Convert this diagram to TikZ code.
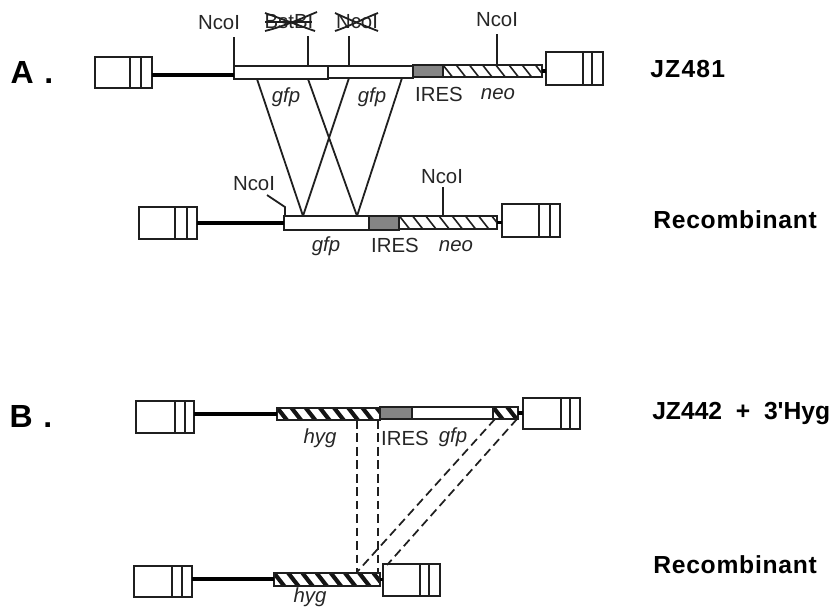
\documentclass[tikz,border=0pt]{standalone}
\usepackage{fontspec}
\setmainfont{Liberation Sans}
\newcommand{\ltrbox}[8]{% name x y w h v1 v2 (unused)
  \node[seg,minimum width=#4*.75pt,minimum height=#5*.75pt] (#1) at (#2,#3) {};
  \coordinate (#1v1) at (#6,#3);
  \coordinate (#1v2) at (#7,#3);
  \draw[ink] (#1v1) -- (#1v1 |- #1.south);
  \draw[ink] (#1v2) -- (#1v2 |- #1.south);
}
\newcommand{\barseg}[6]{% name x y w h style
  \node[seg,#6,minimum width=#4*.75pt,minimum height=#5*.75pt] (#1) at (#2,#3) {};
}
\tikzset{
  ink/.style={draw=black!88,line width=1.35pt},
  seg/.style={draw=black!88,line width=1.5pt,rectangle,anchor=north west,inner sep=0pt,outer sep=0pt,fill=white},
  graybar/.style={fill=black!48},
  thinhatch/.style={path picture={
    \foreach \i in {-1,...,8}{
      \draw[black!88,line width=1.2pt] ([xshift=\i*13.2*.75pt]path picture bounding box.north west) -- ++(11,14);
    }}},
  thickhatch/.style={path picture={
    \foreach \i in {-1,...,8}{
      \draw[black!92,line width=3.1pt] ([xshift=\i*14.2*.75pt]path picture bounding box.north west) -- ++(11,14);
    }}},
  backbone/.style={draw=black,line width=2.6pt},
  dashline/.style={draw=black!88,line width=1.3pt,dash pattern=on 6.5pt off 3.6pt},
  lab/.style={font=\fontsize{15.3}{17}\selectfont,text=black!85,inner sep=0pt},
  gene/.style={font=\fontsize{15.3}{17}\selectfont\itshape,text=black!85,inner sep=0pt},
  rowname/.style={font=\fontsize{18.5}{20}\selectfont\bfseries,text=black,inner sep=0pt,anchor=base west},
  panel/.style={font=\fontsize{24}{26}\selectfont\bfseries,text=black,inner sep=0pt},
}
\begin{document}
\begin{tikzpicture}[x=.75pt,y=-.75pt]
\useasboundingbox (0,0) rectangle (830,607);
% ---------- A, JZ481
\ltrbox{aL}{95}{57}{57}{31}{130}{141}{}
\ltrbox{aR}{546}{52}{57}{33}{583}{592}{}
\barseg{a1}{234}{66}{94}{13}{}
\barseg{a2}{328}{65.5}{85}{12.5}{}
\barseg{a3}{413}{65}{30}{12}{graybar}
\barseg{a4}{443}{65}{99}{12}{thinhatch}
\draw[backbone] (aL.east |- 0,75) -- (a1.west |- 0,75);
\draw[backbone] (a4.east) -- (aR.west |- a4.east);
\coordinate (s1) at (234,37);
\coordinate (s2) at (308,36);
\coordinate (s3) at (349,36);
\coordinate (s4) at (497,34);
\draw[ink] (s1) -- (s1 |- a1.north);
\draw[ink] (s2) -- (s2 |- a1.north);
\draw[ink] (s3) -- (s3 |- a2.north);
\draw[ink] (s4) -- (s4 |- a4.north);
\node[lab] (ta1) at (219,23) {NcoI};
\node[lab] (ta2) at (289,22) {BstBI};
\node[lab] (ta3) at (357,22) {NcoI};
\node[lab] (ta4) at (497,20) {NcoI};
\draw[ink] (265,13) .. controls (285,20) and (300,26) .. (315,31);
\draw[ink] (265,31) .. controls (285,26) and (300,19) .. (317,12);
\draw[ink] (265,22) -- (312,22);
\draw[ink] (335,13) .. controls (350,20) and (365,26) .. (378,31);
\draw[ink] (335,31) .. controls (350,26) and (365,18) .. (378,13);
\node[gene] (ga1) at (286,97) {gfp};
\node[gene] (ga2) at (372,97) {gfp};
\node[lab] (ga3) at (439,94) {IRES};
\node[gene] (ga4) at (498,94) {neo};
% ---------- A, recombinant
\ltrbox{rL}{139}{207}{58}{32}{175}{187}{}
\ltrbox{rR}{502}{204}{58}{33}{539}{550}{}
\barseg{r1}{284}{216}{85}{14}{}
\barseg{r2}{369}{216}{30}{14}{graybar}
\barseg{r3}{399}{215.5}{98}{13.5}{thinhatch}
\draw[backbone] (rL.east |- 0,223) -- (r1.west);
\draw[backbone] (r3.east) -- (rR.west |- r3.east);
\coordinate (k1) at (267,195);
\coordinate (k2) at (285,207);
\coordinate (s5) at (443,187);
\draw[ink] (k1) -- (k2) -- (k2 |- r1.north);
\draw[ink] (s5) -- (s5 |- r3.north);
\node[lab] (tr1) at (254,184) {NcoI};
\node[lab] (tr2) at (442,177) {NcoI};
\node[gene] (gr1) at (326,246) {gfp};
\node[lab] (gr2) at (395,245) {IRES};
\node[gene] (gr3) at (456,246) {neo};
% ---------- crossing lines
\coordinate (u1) at (257,79);
\coordinate (u2) at (308,79);
\coordinate (u3) at (349,78);
\coordinate (u4) at (402,78);
\coordinate (d1) at (303,216);
\coordinate (d2) at (357,216);
\draw[ink] (u1) -- (d1);
\draw[ink] (u3) -- (d1);
\draw[ink] (u2) -- (d2);
\draw[ink] (u4) -- (d2);
% ---------- B, JZ442
\ltrbox{bL}{136}{401}{58}{32}{175}{185}{}
\ltrbox{bR}{523}{398}{57}{31}{561}{570}{}
\barseg{b1}{277}{407.5}{103}{12.5}{thickhatch}
\barseg{b2}{380}{407}{32}{12}{graybar}
\barseg{b3}{412}{407}{81}{12}{}
\barseg{b4}{493}{407}{25}{12}{thickhatch}
\draw[backbone] (bL.east |- 0,414) -- (b1.west |- 0,414);
\draw[backbone] (b4.east) -- (bR.west |- b4.east);
\node[gene] (gb1) at (320,438) {hyg};
\node[lab] (gb2) at (405,438) {IRES};
\node[gene] (gb3) at (453,437) {gfp};
% ---------- B, recombinant
\ltrbox{cL}{134}{566}{58}{31}{172}{182}{}
\ltrbox{cR}{383}{564}{57}{32}{420}{429}{}
\barseg{c1}{274}{573}{106}{13}{thickhatch}
\draw[backbone] (cL.east |- 0,579) -- (c1.west |- 0,579);
\draw[backbone] (c1.east) -- (cR.west |- c1.east);
\node[gene] (gc1) at (310,597) {hyg};
% ---------- dashed lines
\coordinate (v1) at (357,420);
\coordinate (v2) at (378,420);
\coordinate (v3) at (495,419);
\coordinate (v4) at (517,419);
\coordinate (w1) at (357,572);
\coordinate (w2) at (378,572);
\coordinate (w3) at (387,565);
\draw[dashline] (v1) -- (w1);
\draw[dashline] (v2) -- (w2);
\draw[dashline] (v3) -- (w1);
\draw[dashline] (v4) -- (w3);
% ---------- labels
\node[panel] (pa) at (32,72) {A\,\,.};
\node[panel] (pb) at (31,416) {B\,\,.};
\node[rowname] (n1) at (650,77) {\addfontfeature{LetterSpace=5}JZ481};
\node[rowname] (n2) at (653,228) {\addfontfeature{LetterSpace=3}Recombinant};
\node[rowname] (n3) at (652,419) {JZ442~~+~~3\textquotesingle Hyg};
\node[rowname] (n4) at (653,573) {\addfontfeature{LetterSpace=3}Recombinant};
\end{tikzpicture}
\end{document}
